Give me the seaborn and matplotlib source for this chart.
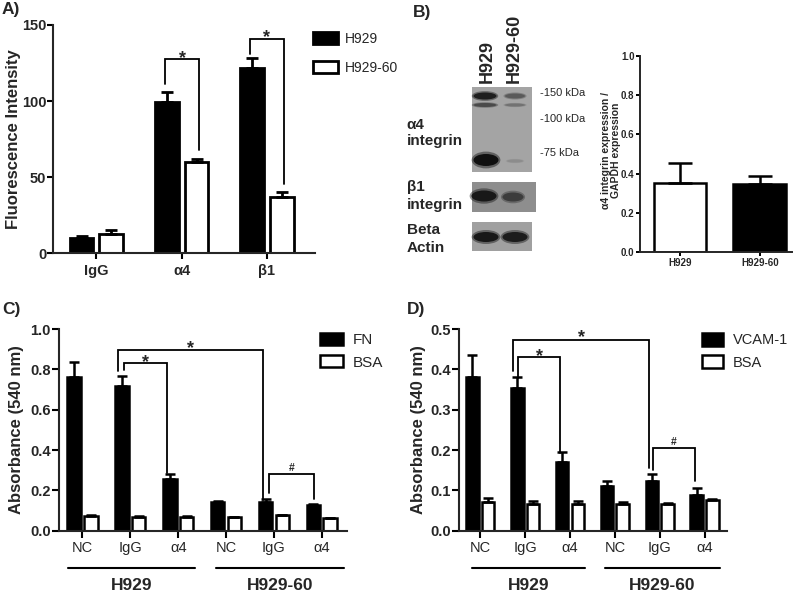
import numpy as np
import pandas as pd
import matplotlib
matplotlib.use('Agg')
import matplotlib.pyplot as plt
import matplotlib.transforms as mtransforms
from matplotlib import font_manager
from matplotlib.patches import Rectangle, Ellipse
import seaborn as sns

W, H = 800, 593

# ---------------- data ----------------
# A) surface expression
a_targets = ['IgG', 'α4', 'β1']
a_h929 = [10.2, 99.5, 121.5]
a_h929_err = [1.4, 6.2, 7.0]
a_h929_60 = [12.8, 59.9, 37.0]
a_h929_60_err = [2.6, 1.8, 3.3]

# B) densitometry
b_cells = ['H929', 'H929-60']
b_ratio = [0.351, 0.346]
b_ratio_err = [0.105, 0.042]

# C) / D) adhesion assays
cd_lines = ['H929', 'H929-60']
cd_treat = ['NC', 'IgG', 'α4']
c_fn = [0.764, 0.717, 0.255, 0.144, 0.141, 0.128]
c_fn_err = [0.071, 0.050, 0.026, 0.004, 0.016, 0.004]
c_bsa = [0.073, 0.069, 0.069, 0.066, 0.076, 0.061]
c_bsa_err = [0.006, 0.004, 0.004, 0.003, 0.004, 0.003]
d_vcam = [0.381, 0.353, 0.170, 0.111, 0.122, 0.088]
d_vcam_err = [0.055, 0.029, 0.026, 0.011, 0.018, 0.017]
d_bsa = [0.071, 0.067, 0.067, 0.067, 0.066, 0.076]
d_bsa_err = [0.011, 0.007, 0.007, 0.003, 0.003, 0.003]

# western blot sketch (pixel layout of the scanned image)
blot_panels = [(471.7, 86.7, 60.6, 85.0, '#a4a4a4'),
               (471.7, 181.7, 64.0, 30.0, '#8e8e8e'),
               (471.7, 221.7, 60.6, 29.3, '#a0a0a0')]
blot_bands = [(485, 96, 23, 7, '#1e1e1e'), (515, 96, 20, 5, '#5a5a5a'),
              (485, 105, 23, 4, '#4a4a4a'), (515, 105, 20, 3, '#727272'),
              (486, 160, 25, 12, '#101010'), (515, 161, 16, 3, '#8c8c8c'),
              (484, 196, 25, 11, '#181818'), (513, 197, 21, 9, '#3c3c3c'),
              (486, 237, 25, 10, '#181818'), (515, 237, 25, 10, '#1c1c1c')]

# ---------------- style ----------------
sns.set_style('ticks')
plt.rcParams['font.family'] = ['Liberation Sans', 'DejaVu Sans']
names = {f.name for f in font_manager.fontManager.ttflist}
NARROW = 'Liberation Sans Narrow' if 'Liberation Sans Narrow' in names else 'Liberation Sans'


def fx(x):
    return x / W


def fy(y):
    return 1 - y / H


def long_df(conds, n1, v1, e1, n2, v2, e2):
    return pd.DataFrame({'cond': list(conds) * 2,
                         'sub': [n1] * len(conds) + [n2] * len(conds),
                         'val': list(v1) + list(v2),
                         'err': list(e1) + list(e2)})


def grouped_bars(ax, df, hue_order, capsize, lw):
    order = list(dict.fromkeys(df['cond']))
    sns.barplot(data=df, x='cond', y='val', hue='sub', order=order,
                hue_order=hue_order, palette=dict(zip(hue_order, ['black', 'white'])),
                saturation=1, width=0.7, gap=0.2, edgecolor='black', linewidth=lw,
                errorbar=None, legend=False, ax=ax)
    for cont, sub in zip(ax.containers, hue_order):
        d = df[df['sub'] == sub].set_index('cond').loc[order]
        xs = [p.get_x() + p.get_width() / 2 for p in cont]
        ax.errorbar(xs, d['val'], yerr=[np.zeros(len(d)), d['err']], fmt='none',
                    ecolor='black', elinewidth=lw, capsize=capsize, capthick=lw, zorder=3)
    return [cont[0] for cont in ax.containers]


def bracket(ax, x1, x2, y1, y2, top, mark, size, off):
    ax.plot([x1, x1, x2, x2], [y1, top, top, y2], color='black', lw=1.3,
            solid_joinstyle='miter', clip_on=False, zorder=4)
    ax.annotate(mark, xy=((x1 + x2) / 2, top), xytext=(0, off), textcoords='offset points',
                ha='center', va='baseline', fontsize=size, fontweight='bold')


def style_axes(ax, lw=1.5):
    sns.despine(ax=ax)
    for s in ('left', 'bottom'):
        ax.spines[s].set_linewidth(lw)
    ax.tick_params(width=lw, length=4, color='black')
    ax.set_xlabel('')


def legend(ax, handles, labels, x, y, size, hl, hh, ls, tp):
    ax.legend(handles, labels, loc='upper left', bbox_to_anchor=(fx(x), fy(y)),
              bbox_transform=fig.transFigure, frameon=False, fontsize=size,
              handlelength=hl, handleheight=hh, labelspacing=ls, handletextpad=tp,
              borderpad=0, borderaxespad=0)


fig = plt.figure(figsize=(8, 5.93), dpi=100)

# ---------------- A ----------------
axA = fig.add_axes([fx(53.3), fy(253.3), 261.7 / W, 228.3 / H])
dfA = long_df(a_targets, 'H929', a_h929, a_h929_err, 'H929-60', a_h929_60, a_h929_60_err)
hA = grouped_bars(axA, dfA, ['H929', 'H929-60'], 4.5, 2.0)
axA.set_ylim(0, 150)
axA.set_xlim(-0.506, 2.565)
axA.set_yticks([0, 50, 100, 150])
style_axes(axA)
axA.tick_params(axis='y', pad=1, labelsize=10.5)
axA.tick_params(axis='x', pad=4, labelsize=10.5)
for t in axA.get_yticklabels():
    t.set_fontfamily(NARROW)
    t.set_fontweight('bold')
for t in axA.get_xticklabels():
    t.set_fontweight('bold')
axA.set_ylabel('Fluorescence Intensity', fontsize=12, fontweight='bold')
axA.yaxis.set_label_coords(-0.122, 0.5)
bracket(axA, 0.81, 1.2, 111, 68, 127.5, '*', 13, -2.5)
bracket(axA, 1.8, 2.2, 131, 45.6, 141, '*', 13, -2.5)
legend(axA, hA, ['H929', 'H929-60'], 313, 32, 10, 1.8, 1.0, 1.05, 0.5)

# ---------------- B: blot ----------------
axBlot = fig.add_axes([fx(400), fy(262), 160 / W, 262 / H])
axBlot.set_xlim(400, 560)
axBlot.set_ylim(262, 0)
axBlot.axis('off')
for x0, y0, w, h, c in blot_panels:
    axBlot.add_patch(Rectangle((x0, y0), w, h, facecolor=c, edgecolor='none'))
for cx, cy, w, h, c in blot_bands:
    axBlot.add_patch(Ellipse((cx, cy), w * 1.15, h * 1.4, facecolor=c, edgecolor='none', alpha=0.45))
    axBlot.add_patch(Ellipse((cx, cy), w, h, facecolor=c, edgecolor='none'))
axBlot.text(487.7, 83.3, 'H929', rotation=90, ha='center', va='bottom',
            fontsize=13, fontweight='bold')
axBlot.text(514.3, 83.3, 'H929-60', rotation=90, ha='center', va='bottom',
            fontsize=13, fontweight='bold')
for lab, yy in [('-150 kDa', 92.7), ('-100 kDa', 119.3), ('-75 kDa', 153.3)]:
    axBlot.text(540, yy, lab, ha='left', va='center', fontsize=8)
for lab, yy in [('α4', 125), ('integrin', 140.7), ('β1', 186.7), ('integrin', 205),
                ('Beta', 230), ('Actin', 248)]:
    axBlot.text(406.5, yy, lab, ha='left', va='center', fontsize=11, fontweight='bold')

# ---------------- B: ratio ----------------
axB = fig.add_axes([fx(640), fy(252.3), 151.7 / W, 196.6 / H])
sns.barplot(x=b_cells, y=b_ratio, hue=b_cells, order=b_cells,
            palette={'H929': 'white', 'H929-60': 'black'}, saturation=1, width=0.66,
            edgecolor='black', linewidth=1.8, errorbar=None, legend=False, ax=axB)
bx = [p.get_x() + p.get_width() / 2 for c in axB.containers for p in c]
axB.errorbar(bx, b_ratio, yerr=[np.zeros(len(b_ratio)), b_ratio_err], fmt='none',
             ecolor='black', elinewidth=1.8, capsize=8.5, capthick=1.8, zorder=3)
axB.set_ylim(0, 1.0)
axB.set_xlim(-0.5, 1.4)
axB.set_yticks(np.arange(0, 1.01, 0.2))
axB.set_yticklabels([f'{v:.1f}' for v in np.arange(0, 1.01, 0.2)])
style_axes(axB, 1.4)
axB.tick_params(length=3, pad=1, labelsize=7)
for t in axB.get_yticklabels() + axB.get_xticklabels():
    t.set_fontfamily(NARROW)
    t.set_fontweight('bold')
axB.set_ylabel('α4 integrin expression /\nGAPDH expression', fontsize=7.5,
               fontweight='bold', linespacing=1.05)
axB.yaxis.set_label_coords(-0.125, 0.52)

# ---------------- C / D ----------------
cd_conds = [f'{l} {t}' for l in cd_lines for t in cd_treat]

axC = fig.add_axes([fx(59), fy(530.7), 287.7 / W, 201.7 / H])
dfC = long_df(cd_conds, 'FN', c_fn, c_fn_err, 'BSA', c_bsa, c_bsa_err)
hC = grouped_bars(axC, dfC, ['FN', 'BSA'], 3.5, 1.8)
axC.set_ylim(0, 1.0)
axC.set_xlim(-0.49, 5.52)
axC.set_yticks(np.arange(0, 1.01, 0.2))
axC.set_yticklabels([f'{v:.1f}' for v in np.arange(0, 1.01, 0.2)])

axD = fig.add_axes([fx(459), fy(530.7), 267.7 / W, 201.7 / H])
dfD = long_df(cd_conds, 'VCAM-1', d_vcam, d_vcam_err, 'BSA', d_bsa, d_bsa_err)
hD = grouped_bars(axD, dfD, ['VCAM-1', 'BSA'], 3.5, 1.8)
axD.set_ylim(0, 0.5)
axD.set_xlim(-0.475, 5.495)
axD.set_yticks(np.arange(0, 0.51, 0.1))
axD.set_yticklabels([f'{v:.1f}' for v in np.arange(0, 0.51, 0.1)])

for ax, spans in [(axC, [(-0.3, 2.35), (2.79, 5.46)]), (axD, [(-0.19, 2.34), (2.78, 5.35)])]:
    style_axes(ax)
    ax.tick_params(axis='y', pad=1, labelsize=10.5, length=5)
    ax.tick_params(axis='x', pad=2.5, labelsize=10.5, length=5)
    ax.set_xticks(range(len(cd_conds)))
    ax.set_xticklabels(cd_treat * len(cd_lines))
    for t in ax.get_yticklabels():
        t.set_fontweight('bold')
    ax.set_ylabel('Absorbance (540 nm)', fontsize=12, fontweight='bold')
    trans = mtransforms.blended_transform_factory(ax.transData, ax.transAxes)
    for (x1, x2), lab in zip(spans, cd_lines):
        ax.plot([x1, x2], [-0.183, -0.183], color='black', lw=1.5, transform=trans, clip_on=False)
        ax.text((x1 + x2) / 2, -0.27, lab, transform=trans, ha='center', va='center',
                fontsize=12.5, fontweight='bold')

axC.yaxis.set_label_coords(-0.122, 0.5)
axD.yaxis.set_label_coords(-0.123, 0.5)

bracket(axC, 0.75, 3.77, 0.793, 0.152, 0.897, '*', 13, -2.5)
bracket(axC, 0.87, 1.76, 0.797, 0.285, 0.83, '*', 13, -2.5)
bracket(axC, 3.9, 4.84, 0.185, 0.155, 0.281, '#', 7.5, 2.5)
bracket(axD, 0.737, 3.77, 0.395, 0.155, 0.4735, '*', 13, -2)
bracket(axD, 0.85, 1.78, 0.378, 0.192, 0.43, '*', 13, -2.5)
bracket(axD, 3.85, 4.79, 0.151, 0.122, 0.205, '#', 7.5, 2.5)

legend(axC, hC, ['FN', 'BSA'], 320, 333, 11, 1.48, 0.87, 0.5, 0.65)
legend(axD, hD, ['VCAM-1', 'BSA'], 701.7, 333, 10.5, 1.48, 0.96, 0.55, 0.66)

# ---------------- panel letters ----------------
for lab, x, y in [('A)', 2, 2), ('B)', 413, 5), ('C)', 2, 302), ('D)', 407, 302)]:
    fig.text(fx(x), fy(y), lab, ha='left', va='top', fontsize=12.5, fontweight='bold')

fig.savefig('out.png', dpi=100)
